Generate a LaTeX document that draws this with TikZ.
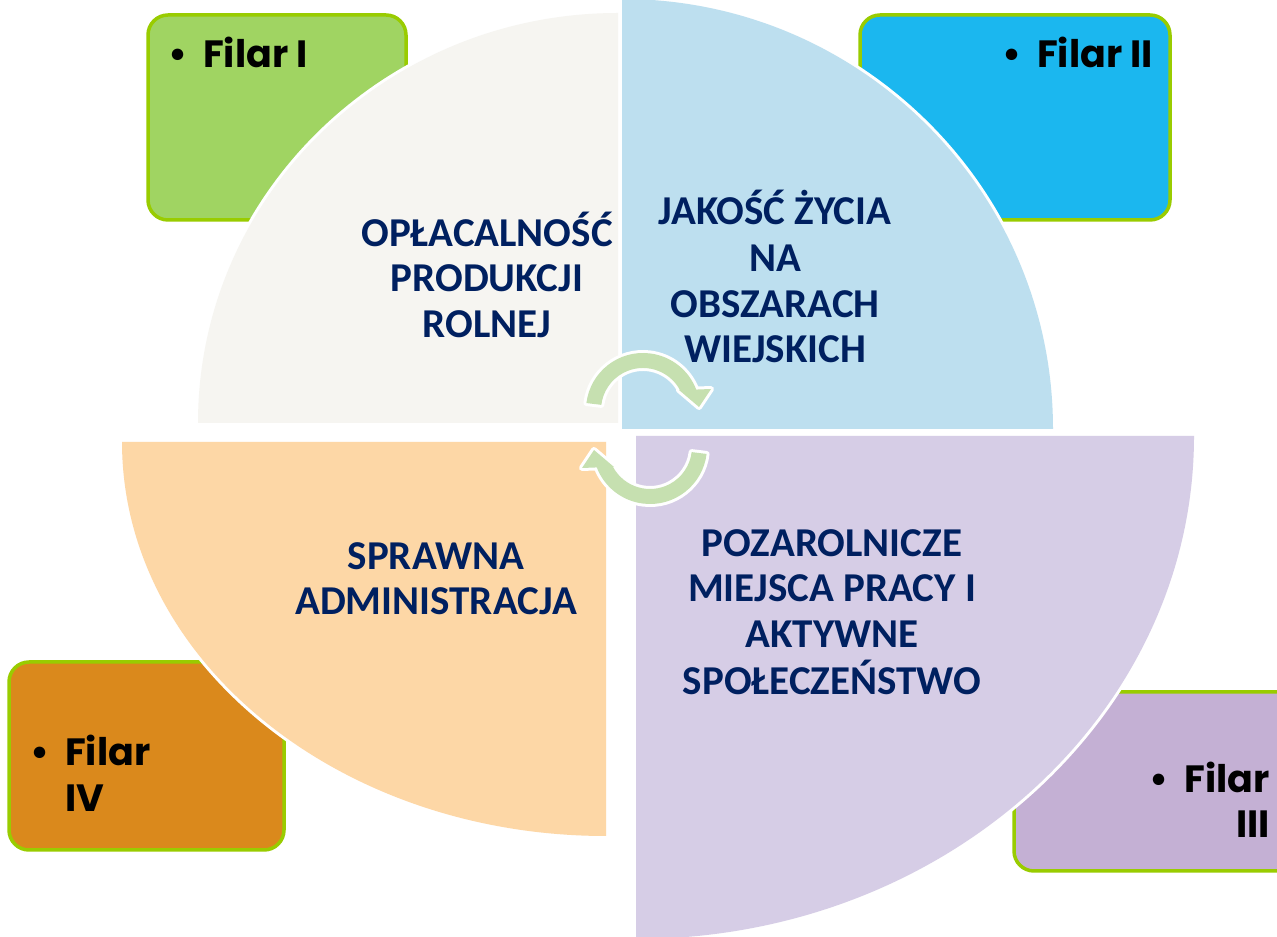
\documentclass[tikz,border=0pt]{standalone}
\usepackage{fontspec}
\setmainfont{Carlito}
\newfontfamily\filarfont{Poppins}
\definecolor{navy}{RGB}{0,32,96}
\definecolor{qgray}{RGB}{246,245,241}
\definecolor{qblue}{RGB}{189,223,239}
\definecolor{qlav}{RGB}{214,205,230}
\definecolor{qpeach}{RGB}{253,215,166}
\definecolor{fgreen}{RGB}{160,212,98}
\definecolor{fcyan}{RGB}{27,183,239}
\definecolor{flav}{RGB}{196,176,212}
\definecolor{forange}{RGB}{218,137,28}
\definecolor{fborder}{RGB}{153,204,0}
\definecolor{agreen}{RGB}{198,224,176}
\begin{document}
\begin{tikzpicture}[x=1pt,y=1pt,
  filarbox/.style={draw=fborder, line width=3.5pt, rounded corners=20pt},
  quad/.style={preaction={draw=white,line width=6pt,line join=round}},
  qtext/.style={text=navy, font=\fontsize{41}{45}\selectfont\bfseries, anchor=base, inner sep=0pt},
  ftext/.style={text=black, font=\filarfont\bfseries\fontsize{38}{46}\selectfont, inner sep=0pt},
  cyc/.style={fill=agreen, preaction={draw=white,line width=6pt,line join=round}}
]
\clip (0,0) rectangle (1277,937);
\useasboundingbox (0,0) rectangle (1277,937);
\fill[white] (0,0) rectangle (1277,937);

% Filar boxes
\draw[filarbox, fill=fgreen] (148,717) rectangle (406,922);
\draw[filarbox, fill=fcyan] (860,717) rectangle (1170,922);
\draw[filarbox, fill=forange] (9,87) rectangle (284,275);
\draw[filarbox, fill=flav] (1014,66) rectangle (1300,245);

% quadrants
\fill[qgray, quad] (618,514) -- (198,514) arc[start angle=180, end angle=90, x radius=420, y radius=410] -- cycle;
\fill[qblue, quad] (622,508) -- (622,938) arc[start angle=90, end angle=0, x radius=431, y radius=430] -- cycle;
\fill[qlav, quad] (636,501) -- (1194,501) arc[start angle=0, end angle=-90, x radius=558, y radius=503] -- cycle;
\fill[qpeach, quad] (606,495) -- (606,101) arc[start angle=270, end angle=180, x radius=484, y radius=394] -- cycle;

% cycle arrows
\fill[cyc] (586.42,533.95) arc[start angle=173, end angle=21, radius=57]
  -- (711,548) -- (699,530) -- (679,547)
  -- (679.95,546.98) arc[start angle=28.4, end angle=173, radius=42] -- cycle;
\fill[cyc] (706.58,483.05) arc[start angle=353, end angle=201, radius=57]
  -- (582,469) -- (594,487) -- (614,470)
  -- (613.05,470.02) arc[start angle=208.4, end angle=353, radius=42] -- cycle;

% quadrant texts
\node[qtext] (tl1) at (487,690) {OPŁACALNOŚĆ};
\node[qtext] (tl2) at (487,645) {PRODUKCJI};
\node[qtext] (tl3) at (487,599) {ROLNEJ};
\node[qtext] (tr1) at (775,712) {JAKOŚĆ ŻYCIA};
\node[qtext] (tr2) at (775,665) {NA};
\node[qtext] (tr3) at (775,619) {OBSZARACH};
\node[qtext] (tr4) at (775,574) {WIEJSKICH};
\node[qtext] (br1) at (832,380) {POZAROLNICZE};
\node[qtext] (br2) at (832,335) {MIEJSCA PRACY I};
\node[qtext] (br3) at (832,289) {AKTYWNE};
\node[qtext] (br4) at (832,242) {SPOŁECZEŃSTWO};
\node[qtext] (bl1) at (436,367) {SPRAWNA};
\node[qtext] (bl2) at (436,322) {ADMINISTRACJA};

% filar texts
\node[ftext, anchor=base west] (f1) at (203,869) {\llap{•\hspace{16pt}}Filar I};
\node[ftext, anchor=base west] (f2) at (1037,869) {\llap{•\hspace{16pt}}Filar II};
\node[ftext, anchor=base east] (f3a) at (1270,144) {\llap{•\hspace{16pt}}Filar};
\node[ftext, anchor=base east] (f3b) at (1270,99) {III};
\node[ftext, anchor=base west] (f4a) at (65,171) {\llap{•\hspace{16pt}}Filar};
\node[ftext, anchor=base west] (f4b) at (65,125) {IV};
\end{tikzpicture}
\end{document}
